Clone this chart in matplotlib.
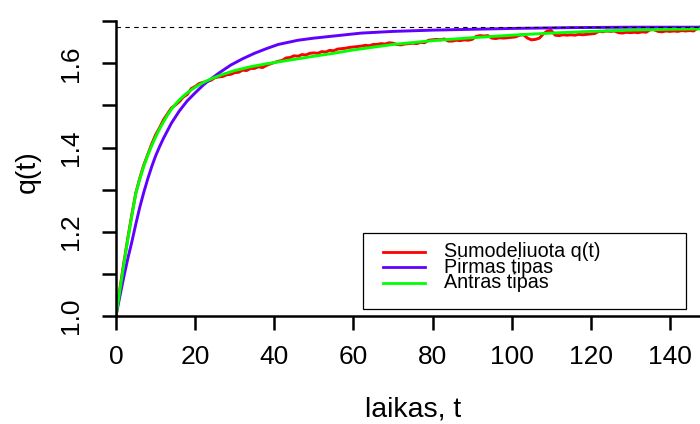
import matplotlib
matplotlib.use("Agg")
import matplotlib.pyplot as plt
from matplotlib.patches import Rectangle
from matplotlib.lines import Line2D

plt.rcParams["font.family"] = ["Liberation Sans", "DejaVu Sans"]

# Simulated process, sampled each time unit
red_t = list(range(0, 149))
red_q = [
    1.000, 1.066, 1.128, 1.186, 1.241, 1.292, 1.327, 1.358, 1.383, 1.408,
    1.430, 1.447, 1.466, 1.480, 1.494, 1.501, 1.509, 1.520, 1.526, 1.540,
    1.545, 1.552, 1.555, 1.557, 1.560, 1.566, 1.568, 1.569, 1.573, 1.574,
    1.578, 1.579, 1.584, 1.583, 1.588, 1.588, 1.592, 1.590, 1.595, 1.599,
    1.602, 1.605, 1.607, 1.613, 1.614, 1.618, 1.617, 1.621, 1.620, 1.624,
    1.625, 1.624, 1.628, 1.627, 1.631, 1.630, 1.634, 1.635, 1.636, 1.638,
    1.639, 1.640, 1.641, 1.643, 1.642, 1.645, 1.645, 1.647, 1.646, 1.649,
    1.648, 1.645, 1.644, 1.646, 1.647, 1.648, 1.647, 1.650, 1.649, 1.655,
    1.656, 1.657, 1.656, 1.658, 1.653, 1.653, 1.655, 1.654, 1.656, 1.655,
    1.657, 1.664, 1.666, 1.665, 1.666, 1.660, 1.659, 1.661, 1.660, 1.661,
    1.662, 1.663, 1.667, 1.668, 1.660, 1.656, 1.657, 1.660, 1.670, 1.677,
    1.678, 1.667, 1.666, 1.668, 1.667, 1.668, 1.667, 1.669, 1.668, 1.669,
    1.670, 1.671, 1.676, 1.675, 1.677, 1.676, 1.677, 1.673, 1.672, 1.674,
    1.673, 1.674, 1.673, 1.675, 1.674, 1.680, 1.680, 1.676, 1.675, 1.677,
    1.676, 1.677, 1.676, 1.678, 1.677, 1.678, 1.677, 1.684, 1.688,
]

# First-type model curve
blue_t = [0, 1, 2, 3, 4, 5, 6, 7, 8, 9, 10, 11, 12, 14, 16, 18, 20, 22, 23,
          26, 29, 32, 35, 38, 41, 46, 50, 55, 62, 70, 80, 90, 100, 115, 130, 148]
blue_q = [1.000, 1.048, 1.094, 1.137, 1.176, 1.218, 1.258, 1.293, 1.325, 1.354,
          1.380, 1.402, 1.422, 1.458, 1.487, 1.511, 1.530, 1.548, 1.556,
          1.577, 1.596, 1.611, 1.624, 1.635, 1.645, 1.655, 1.660, 1.665, 1.672,
          1.676, 1.679, 1.681, 1.683, 1.685, 1.686, 1.686]

# Second-type model curve
green_t = [0, 1, 2, 3, 4, 5, 6, 7, 8, 9, 10, 11, 12, 13, 14, 15, 16, 17, 18,
           19, 20, 21, 23, 25, 27, 30, 34, 38, 42, 46, 50, 55, 60, 70, 80, 90,
           100, 110, 120, 130, 140, 148]
green_q = [1.000, 1.062, 1.124, 1.183, 1.238, 1.291, 1.325, 1.355, 1.381, 1.404,
           1.425, 1.444, 1.461, 1.477, 1.491, 1.503, 1.513, 1.522, 1.530,
           1.537, 1.543, 1.549, 1.559, 1.567, 1.574, 1.583, 1.592, 1.599, 1.605,
           1.611, 1.617, 1.624, 1.632, 1.645, 1.654, 1.661, 1.667, 1.672, 1.676,
           1.679, 1.681, 1.682]

q_limit = 1.687

series_labels = ["Sumodeliuota q(t)", "Pirmas tipas", "Antras tipas"]
series_colors = ["#FF0000", "#6000FF", "#00FF00"]

x_ticks = [0, 20, 40, 60, 80, 100, 120, 140]
y_ticks = [1.0, 1.1, 1.2, 1.3, 1.4, 1.5, 1.6, 1.7]
y_ticklabels = ["1.0", "", "1.2", "", "1.4", "", "1.6", ""]

W, H = 700, 424
fig = plt.figure(figsize=(W / 100, H / 100), dpi=100)
ax = fig.add_axes([116 / W, 108 / H, 1 - 116 / W, 1 - 108 / H])

lw = 2.1
ax.plot(red_t, red_q, color=series_colors[0], lw=lw, solid_joinstyle="round")
ax.plot(blue_t, blue_q, color=series_colors[1], lw=lw)
ax.plot(green_t, green_q, color=series_colors[2], lw=lw)
ax.axhline(q_limit, color="black", lw=0.8, ls=(0, (4, 4)))

ax.set_xlim(0, 147.6)
ax.set_ylim(1.0, 1.0 + 316 / 421)

for side in ("top", "right"):
    ax.spines[side].set_visible(False)
ax.spines["left"].set_bounds(1.0, 1.7)
ax.spines["left"].set_linewidth(1.8)
ax.spines["bottom"].set_linewidth(1.8)

ax.set_xticks(x_ticks)
ax.set_yticks(y_ticks)
ax.set_yticklabels(y_ticklabels, rotation=90, va="center")
ax.tick_params(axis="both", length=10, width=1.8, labelsize=19, direction="out")
ax.tick_params(axis="x", pad=11)
ax.tick_params(axis="y", pad=13.5)

fig.text(413 / W, 1 - 410 / H, "laikas, t", ha="center", va="center", fontsize=20.5)
fig.text(28 / W, 1 - 172 / H, "q(t)", ha="center", va="center", fontsize=20.5,
         rotation=90)

# Legend box
def fx(px):
    return px / W

def fy(py):
    return 1 - py / H

fig.patches.append(Rectangle((fx(363), fy(309)), fx(686) - fx(363), fy(233) - fy(309),
                             transform=fig.transFigure, fill=True, facecolor="white",
                             edgecolor="black", lw=0.9, zorder=5))
rows_y = [251.7, 267.3, 282.7]
for lab, col, ry in zip(series_labels, series_colors, rows_y):
    fig.lines.append(Line2D([fx(383), fx(425)], [fy(ry), fy(ry)], color=col, lw=2.0,
                            transform=fig.transFigure, zorder=6))
    fig.text(fx(444), fy(ry), lab, ha="left", va="center", fontsize=14.2, zorder=6)

fig.savefig("out.png", dpi=100)
